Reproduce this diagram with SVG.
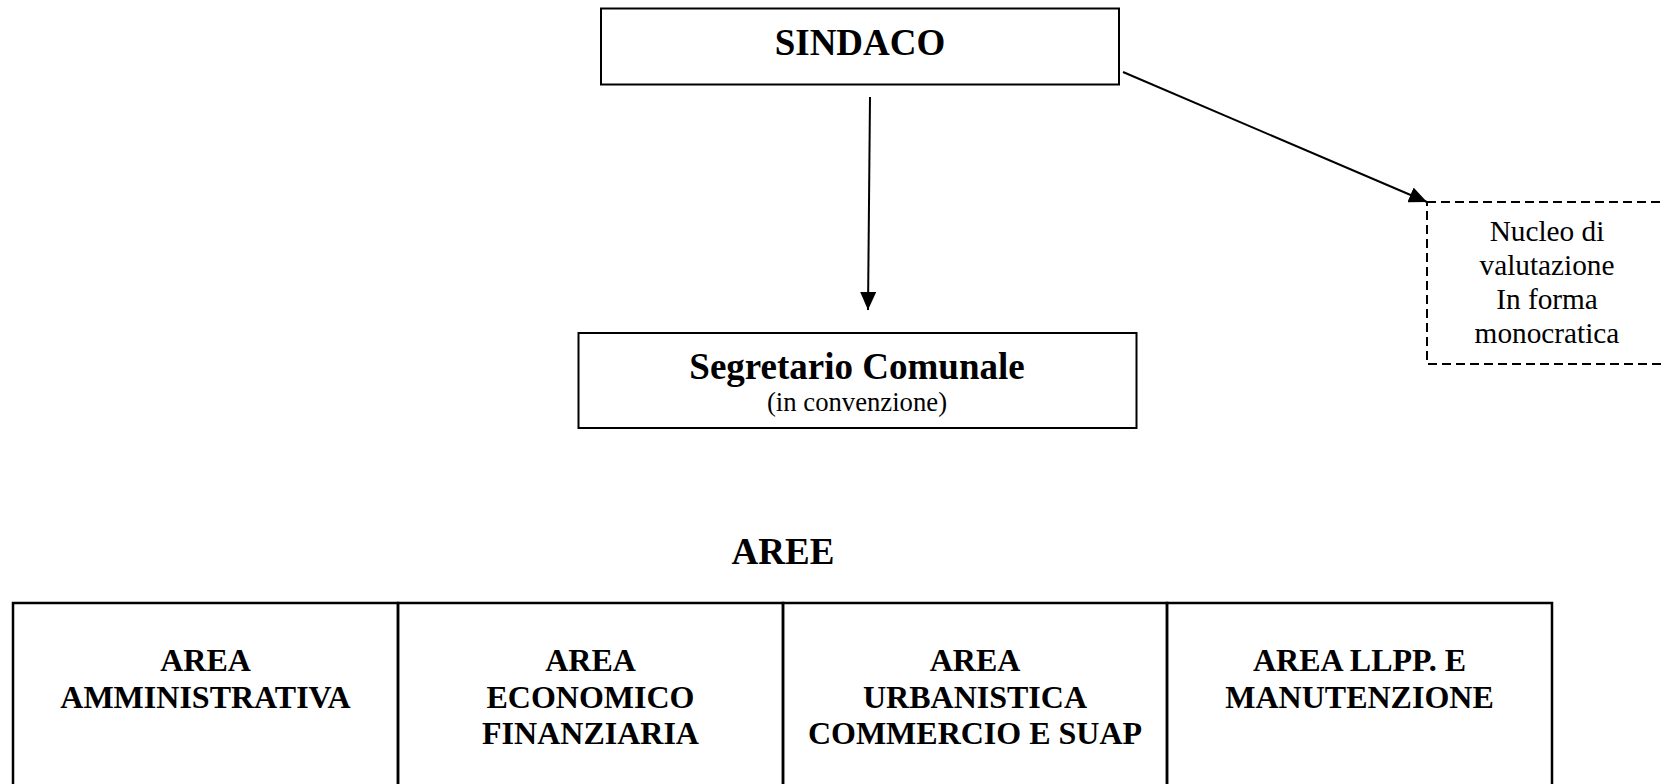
<svg xmlns="http://www.w3.org/2000/svg" width="1664" height="784" viewBox="0 0 1664 784">
<style>
.box{fill:#fff;stroke:#000;stroke-width:2}
.dash{fill:#fff;stroke:#000;stroke-width:2;stroke-dasharray:9 5}
.cell{fill:none;stroke:#000;stroke-width:2.5}
.t{font-family:"Liberation Serif","Times New Roman",serif;fill:#000;text-anchor:middle}
.b{font-weight:bold}
.conn{stroke:#000;stroke-width:2;fill:none}
</style>
<defs>
<marker id="ah" markerUnits="userSpaceOnUse" markerWidth="18" markerHeight="16" refX="18" refY="8" orient="auto">
<path d="M0,0 L18,8 L0,16 Z" fill="#000"/>
</marker>
</defs>
<rect width="1664" height="784" fill="#fff"/>
<g id="sindaco">
<rect class="box" x="601" y="8.5" width="518" height="76"/>
<text class="t b" x="860" y="55" font-size="37">SINDACO</text>
</g>
<g id="segretario">
<rect class="box" x="578.5" y="333" width="558" height="95"/>
<text class="t b" x="857" y="379" font-size="37">Segretario Comunale</text>
<text class="t" x="857" y="411" font-size="26.7">(in convenzione)</text>
</g>
<g id="nucleo">
<rect class="dash" x="1427" y="202" width="260" height="162"/>
<text class="t" x="1547" y="241" font-size="29.3">Nucleo di</text>
<text class="t" x="1547" y="275" font-size="29.3">valutazione</text>
<text class="t" x="1547" y="309" font-size="29.3">In forma</text>
<text class="t" x="1547" y="343" font-size="29.3">monocratica</text>
</g>
<g id="aree-title">
<text class="t b" x="783" y="564" font-size="37">AREE</text>
</g>
<g id="area-amministrativa">
<rect class="cell" x="13" y="603" width="385" height="200"/>
<text class="t b" x="205.5" y="671" font-size="32">AREA</text>
<text class="t b" x="205.5" y="707.5" font-size="32">AMMINISTRATIVA</text>
</g>
<g id="area-economico">
<rect class="cell" x="398" y="603" width="385" height="200"/>
<text class="t b" x="590.5" y="671" font-size="32">AREA</text>
<text class="t b" x="590.5" y="707.5" font-size="32">ECONOMICO</text>
<text class="t b" x="590.5" y="744" font-size="32">FINANZIARIA</text>
</g>
<g id="area-urbanistica">
<rect class="cell" x="783" y="603" width="384" height="200"/>
<text class="t b" x="975" y="671" font-size="32">AREA</text>
<text class="t b" x="975" y="707.5" font-size="32">URBANISTICA</text>
<text class="t b" x="975" y="744" font-size="32">COMMERCIO E SUAP</text>
</g>
<g id="area-llpp">
<rect class="cell" x="1167" y="603" width="385" height="200"/>
<text class="t b" x="1359.5" y="671" font-size="32">AREA LLPP. E</text>
<text class="t b" x="1359.5" y="707.5" font-size="32">MANUTENZIONE</text>
</g>
<g id="connectors">
<line class="conn" x1="870" y1="97" x2="868" y2="310" marker-end="url(#ah)"/>
<line class="conn" x1="1123" y1="72" x2="1427" y2="202" marker-end="url(#ah)"/>
</g>
</svg>
